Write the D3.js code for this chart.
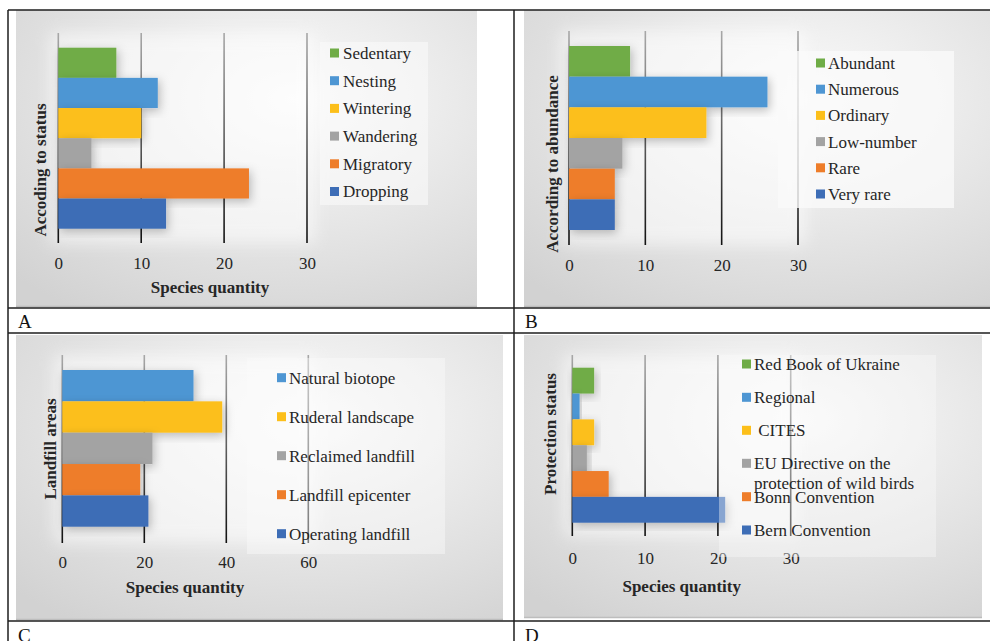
<!DOCTYPE html>
<html>
<head>
<meta charset="utf-8">
<script src="https://cdn.jsdelivr.net/npm/d3@7"></script>
<style>
  body { margin: 0; background: #fff; }
  svg text { font-family: "Liberation Serif", "Times New Roman", serif; }
</style>
</head>
<body>
<div id="chart-area"></div>
<script>
// panel A - by status
var statusCats = ["Sedentary", "Nesting", "Wintering", "Wandering", "Migratory", "Dropping"];
var statusVals = [7, 12, 10, 4, 23, 13];
// panel B - by abundance
var abundCats = ["Abundant", "Numerous", "Ordinary", "Low-number", "Rare", "Very rare"];
var abundVals = [8, 26, 18, 7, 6, 6];
// panel C - landfill areas
var areaCats = ["Natural biotope", "Ruderal landscape", "Reclaimed landfill", "Landfill epicenter", "Operating landfill"];
var areaVals = [32, 39, 22, 19, 21];
// panel D - protection status
var protCats = ["Red Book of Ukraine", "Regional", " CITES", "EU Directive on the|protection of wild birds", "Bonn Convention", "Bern Convention"];
var protVals = [3, 1, 3, 2, 5, 21];

var ticks30 = [0, 10, 20, 30];
var ticks60 = [0, 20, 40, 60];

var colors6 = ["#6fac46", "#4e96d3", "#fcbf1a", "#a3a3a3", "#ee7d2a", "#3d6db6"];
var colors5 = ["#4e96d3", "#fcbf1a", "#a3a3a3", "#ee7d2a", "#3d6db6"];

var svg = d3.select("#chart-area")
  .append("svg")
    .attr("width", 990)
    .attr("height", 641);

var defs = svg.append("defs");

var bg = defs.append("radialGradient").attr("id", "bgGrad")
  .attr("cx", "0.6").attr("cy", "0.3").attr("r", "0.85");
bg.append("stop").attr("offset", "0%").attr("stop-color", "#fbfbfb");
bg.append("stop").attr("offset", "100%").attr("stop-color", "#d2d2d2");

var glow = defs.append("filter").attr("id", "glow")
  .attr("x", "-20%").attr("y", "-20%").attr("width", "140%").attr("height", "140%");
glow.append("feGaussianBlur").attr("stdDeviation", 8);

var shadow = defs.append("filter").attr("id", "shadow")
  .attr("x", "-20%").attr("y", "-20%").attr("width", "150%").attr("height", "150%");
shadow.append("feDropShadow").attr("dx", 2).attr("dy", 3)
  .attr("stdDeviation", 5).attr("flood-color", "#000").attr("flood-opacity", 0.25);

var panels = [
  { id: "A", cats: statusCats, vals: statusVals, colors: colors6, ticks: ticks30,
    box: [16, 10, 477, 307], x0: 58.3, x1: 307, grid: [33, 243], bars: [47.7, 228.7],
    tickY: 263, title: "Species quantity", titleAt: [210, 287],
    yTitle: "Accoding to status", yTitleAt: [40, 170],
    leg: { box: [320, 42, 428, 205], sq: 330, tx: 343, rows: [53, 80.7, 108.4, 136.1, 163.8, 191.5], op: 0.6 } },
  { id: "B", cats: abundCats, vals: abundVals, colors: colors6, ticks: ticks30,
    box: [524, 10, 990, 307], x0: 569, x1: 798, grid: [31, 245], bars: [46, 230],
    tickY: 265, title: null,
    yTitle: "According to abundance", yTitleAt: [552, 164],
    leg: { box: [778, 51, 954, 208], sq: 816, tx: 828, rows: [63, 89.2, 115.4, 141.6, 167.8, 194], op: 0.8 } },
  { id: "C", cats: areaCats, vals: areaVals, colors: colors5, ticks: ticks60,
    box: [16, 335, 503, 620], x0: 62.3, x1: 308.3, grid: [355, 543], bars: [370, 526.7],
    tickY: 562, title: "Species quantity", titleAt: [185, 587],
    yTitle: "Landfill areas", yTitleAt: [50, 449],
    leg: { box: [247, 358, 445, 554], sq: 277, tx: 289, rows: [377.7, 416.7, 455.7, 494.7, 533.7], op: 0.45 } },
  { id: "D", cats: protCats, vals: protVals, colors: colors6, ticks: ticks30,
    box: [524, 335, 982, 618], x0: 572.3, x1: 790.7, grid: [355, 536], bars: [367.7, 522.7],
    tickY: 558, title: "Species quantity", titleAt: [681.7, 585.7],
    yTitle: "Protection status", yTitleAt: [550, 434],
    leg: { box: [719, 355, 936, 557], sq: 742, tx: 754, rows: [364, 397.3, 430.3, 463.3, 496.7, 530], op: 0.4 } }
];

panels.forEach(drawPanel);

function drawPanel(p) {
  var g = svg.append("g");
  var b = p.box;

  g.append("rect")
    .attr("x", b[0]).attr("y", b[1])
    .attr("width", b[2] - b[0]).attr("height", b[3] - b[1])
    .attr("fill", "url(#bgGrad)");
  g.append("line")
    .attr("x1", b[0]).attr("x2", b[2]).attr("y1", b[3] - 0.5).attr("y2", b[3] - 0.5)
    .attr("stroke", "#bdbdbd").attr("stroke-width", 1.5);

  var x = d3.scaleLinear()
    .domain([0, p.ticks[p.ticks.length - 1]])
    .range([p.x0, p.x1]);
  var y = d3.scaleBand()
    .domain(p.cats)
    .range([p.bars[0], p.bars[1]])
    .padding(0);

  // soft white glow behind plot area
  g.append("rect")
    .attr("x", p.x0 - 8).attr("y", p.grid[0])
    .attr("width", p.x1 - p.x0 + 16).attr("height", p.grid[1] - p.grid[0])
    .attr("fill", "#fff").attr("opacity", 0.55)
    .attr("filter", "url(#glow)");

  var gg = defs.append("linearGradient").attr("id", "grid" + p.id)
    .attr("gradientUnits", "userSpaceOnUse")
    .attr("x1", 0).attr("x2", 0).attr("y1", p.grid[0]).attr("y2", p.grid[1]);
  gg.append("stop").attr("offset", "0%").attr("stop-color", "#a8a8a8");
  gg.append("stop").attr("offset", "100%").attr("stop-color", "#111");

  var xAxis = d3.axisBottom(x).tickValues(p.ticks).tickSize(0).tickPadding(0);
  var ax = g.append("g").attr("transform", "translate(0," + p.tickY + ")").call(xAxis);
  ax.select(".domain").remove();
  ax.selectAll("text")
    .attr("dy", "0.35em").attr("y", 0)
    .attr("font-size", 17).attr("fill", "#262626")
    .style("font-family", "Liberation Serif, serif");

  g.selectAll(".grid")
    .data(p.ticks)
    .join("line")
      .attr("x1", d => x(d)).attr("x2", d => x(d))
      .attr("y1", p.grid[0]).attr("y2", p.grid[1])
      .attr("stroke", "url(#grid" + p.id + ")")
      .attr("stroke-width", 1.6);

  g.selectAll(".bar")
    .data(p.vals)
    .join("rect")
      .attr("x", x(0))
      .attr("y", (d, i) => y(p.cats[i]))
      .attr("width", d => x(d) - x(0))
      .attr("height", y.bandwidth())
      .attr("fill", (d, i) => p.colors[i])
      .attr("filter", "url(#shadow)");

  // legend
  var L = p.leg;
  g.append("rect")
    .attr("x", L.box[0]).attr("y", L.box[1])
    .attr("width", L.box[2] - L.box[0]).attr("height", L.box[3] - L.box[1])
    .attr("fill", "#fafafa").attr("opacity", L.op);

  p.cats.forEach(function(c, i) {
    var row = L.rows[i];
    g.append("rect")
      .attr("x", L.sq).attr("y", row - 4.5)
      .attr("width", 9).attr("height", 9)
      .attr("fill", p.colors[i]);
    var parts = c.split("|");
    var t = g.append("text")
      .attr("x", L.tx).attr("y", row)
      .attr("dy", "0.35em")
      .attr("font-size", 17).attr("fill", "#262626")
      .attr("xml:space", "preserve")
      .style("white-space", "pre");
    parts.forEach(function(s, k) {
      t.append("tspan").attr("x", L.tx).attr("dy", k == 0 ? "0.35em" : "1.15em").text(s);
    });
  });

  if (p.title) {
    g.append("text")
      .attr("x", p.titleAt[0]).attr("y", p.titleAt[1])
      .attr("dy", "0.35em")
      .attr("text-anchor", "middle")
      .attr("font-size", 17).attr("font-weight", "bold").attr("fill", "#262626")
      .text(p.title);
  }

  g.append("text")
    .attr("transform", "translate(" + p.yTitleAt[0] + "," + p.yTitleAt[1] + ") rotate(-90)")
    .attr("dy", "0.35em")
    .attr("text-anchor", "middle")
    .attr("font-size", 17).attr("font-weight", "bold").attr("fill", "#262626")
    .text(p.yTitle);
}

// table frame
var frame = svg.append("g").attr("stroke", "#1e1e1e").attr("stroke-width", 1.5);
[10, 308, 333, 621].forEach(function(yy) {
  frame.append("line").attr("x1", 8).attr("x2", 990).attr("y1", yy).attr("y2", yy);
});
[8, 514].forEach(function(xx) {
  frame.append("line").attr("x1", xx).attr("x2", xx).attr("y1", 10).attr("y2", 641);
});

var labels = [["A", 18, 328], ["B", 525, 328], ["C", 18, 642], ["D", 525, 642]];
svg.selectAll(".plabel")
  .data(labels)
  .join("text")
    .attr("x", d => d[1]).attr("y", d => d[2])
    .attr("font-size", 19).attr("fill", "#111")
    .text(d => d[0]);
</script>
</body>
</html>
